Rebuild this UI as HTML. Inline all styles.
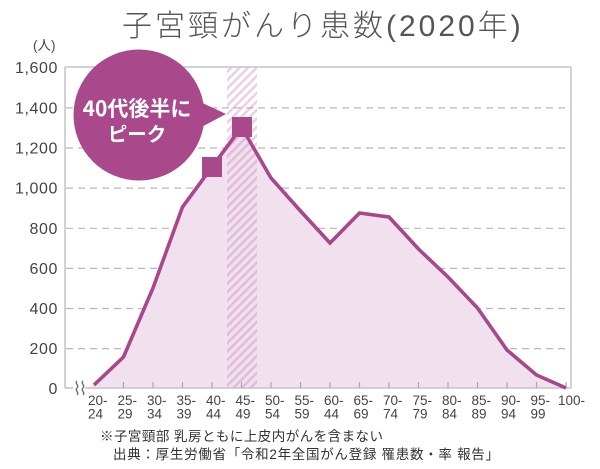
<!DOCTYPE html>
<html>
<head>
<meta charset="utf-8">
<style>
html,body{margin:0;padding:0;background:#fff;}
body{width:600px;height:469px;overflow:hidden;}
svg{display:block;}
</style>
</head>
<body>
<svg width="600" height="469" viewBox="0 0 600 469" xmlns="http://www.w3.org/2000/svg">
<defs>
<pattern id="hatch" width="6" height="6" patternUnits="userSpaceOnUse" patternTransform="rotate(45)">
<rect x="0" y="0" width="2.6" height="6" fill="#c983bb" fill-opacity="0.38"/>
</pattern>
</defs>

<!-- title -->
<text x="122" y="36" font-family="'Liberation Sans','Noto Sans CJK JP',sans-serif" font-size="30" font-weight="300" fill="#555" letter-spacing="3">子宮頸がんり患数(2020年)</text>

<!-- unit -->
<text x="33" y="50" font-family="'Liberation Sans','Noto Sans CJK JP',sans-serif" font-size="13.5" fill="#444">(人)</text>

<!-- gridlines -->
<g stroke="#b8b8b8" stroke-width="1.2" stroke-dasharray="7 5">
<line x1="66" y1="107.9" x2="571" y2="107.9"/>
<line x1="66" y1="148" x2="571" y2="148"/>
<line x1="66" y1="188.1" x2="571" y2="188.1"/>
<line x1="66" y1="228.3" x2="571" y2="228.3"/>
<line x1="66" y1="268.4" x2="571" y2="268.4"/>
<line x1="66" y1="308.5" x2="571" y2="308.5"/>
<line x1="66" y1="348.6" x2="571" y2="348.6"/>
</g>

<!-- area fill -->
<polygon fill="#f1e1ee" points="86,388 94,385 123.5,357 153,288 182.5,207 212,167 241.5,127 271,178 300.5,211 330,243 359.5,213 389,217 418.5,249 448,277 477.5,308 507,350 536.5,375 566,388"/>

<!-- hatch band -->
<rect x="227" y="67" width="30" height="321" fill="url(#hatch)"/>

<!-- plot border -->
<g stroke="#c4c4c4" stroke-width="1.5" fill="none">
<line x1="65" y1="67" x2="571" y2="67"/>
<line x1="65" y1="67" x2="65" y2="388"/>
<line x1="571" y1="67" x2="571" y2="388"/>
<line x1="65" y1="388" x2="571" y2="388"/>
</g>

<!-- ticks -->
<g stroke="#a8a8a8" stroke-width="1.2">
<line x1="123.5" y1="382" x2="123.5" y2="388"/>
<line x1="153" y1="382" x2="153" y2="388"/>
<line x1="182.5" y1="382" x2="182.5" y2="388"/>
<line x1="212" y1="382" x2="212" y2="388"/>
<line x1="241.5" y1="382" x2="241.5" y2="388"/>
<line x1="271" y1="382" x2="271" y2="388"/>
<line x1="300.5" y1="382" x2="300.5" y2="388"/>
<line x1="330" y1="382" x2="330" y2="388"/>
<line x1="359.5" y1="382" x2="359.5" y2="388"/>
<line x1="389" y1="382" x2="389" y2="388"/>
<line x1="418.5" y1="382" x2="418.5" y2="388"/>
<line x1="448" y1="382" x2="448" y2="388"/>
<line x1="477.5" y1="382" x2="477.5" y2="388"/>
<line x1="507" y1="382" x2="507" y2="388"/>
<line x1="536.5" y1="382" x2="536.5" y2="388"/>
<line x1="566" y1="382" x2="566" y2="388"/>
</g>

<!-- axis break -->
<rect x="73" y="386" width="12" height="4" fill="#fff"/>
<g stroke="#666" stroke-width="1.3" fill="none">
<path d="M77,381 c-3,2 3,5 0,7 c-3,2 3,5 0,7"/>
<path d="M83,381 c-3,2 3,5 0,7 c-3,2 3,5 0,7"/>
</g>

<!-- line -->
<polyline fill="none" stroke="#a8478b" stroke-width="3.6" stroke-linejoin="miter" points="94,385 123.5,357 153,288 182.5,207 212,167 241.5,127 271,178 300.5,211 330,243 359.5,213 389,217 418.5,249 448,277 477.5,308 507,350 536.5,375 566,388"/>

<!-- markers -->
<rect x="202" y="157" width="20" height="20" fill="#a9498c"/>
<rect x="232" y="117" width="20" height="20" fill="#a9498c"/>

<!-- bubble -->
<circle cx="139" cy="115" r="65.5" fill="#a9498c"/>
<polygon points="194,99 226,114 194,131" fill="#a9498c"/>
<text x="137" y="116" text-anchor="middle" font-family="'Noto Sans CJK JP',sans-serif" font-weight="bold" font-size="21" fill="#fff">40代後半に</text>
<text x="137" y="141" text-anchor="middle" font-family="'Noto Sans CJK JP',sans-serif" font-weight="bold" font-size="19.5" fill="#fff">ピーク</text>

<!-- y labels -->
<g font-family="'Liberation Sans',sans-serif" font-size="16" fill="#444" text-anchor="end" letter-spacing="0.6">
<text x="58" y="73">1,600</text>
<text x="58" y="113.5">1,400</text>
<text x="58" y="153.5">1,200</text>
<text x="58" y="193.5">1,000</text>
<text x="58" y="234">800</text>
<text x="58" y="274">600</text>
<text x="58" y="314">400</text>
<text x="58" y="354">200</text>
<text x="58" y="394">0</text>
</g>

<!-- x labels -->
<g font-family="'Liberation Sans',sans-serif" font-size="13.5" fill="#444">
<text x="88" y="405">20-</text><text x="88" y="418.5">24</text>
<text x="117.5" y="405">25-</text><text x="117.5" y="418.5">29</text>
<text x="147" y="405">30-</text><text x="147" y="418.5">34</text>
<text x="176.5" y="405">35-</text><text x="176.5" y="418.5">39</text>
<text x="206" y="405">40-</text><text x="206" y="418.5">44</text>
<text x="235.5" y="405">45-</text><text x="235.5" y="418.5">49</text>
<text x="265" y="405">50-</text><text x="265" y="418.5">54</text>
<text x="294.5" y="405">55-</text><text x="294.5" y="418.5">59</text>
<text x="324" y="405">60-</text><text x="324" y="418.5">44</text>
<text x="353.5" y="405">65-</text><text x="353.5" y="418.5">69</text>
<text x="383" y="405">70-</text><text x="383" y="418.5">74</text>
<text x="412.5" y="405">75-</text><text x="412.5" y="418.5">79</text>
<text x="442" y="405">80-</text><text x="442" y="418.5">84</text>
<text x="471.5" y="405">85-</text><text x="471.5" y="418.5">89</text>
<text x="501" y="405">90-</text><text x="501" y="418.5">94</text>
<text x="530.5" y="405">95-</text><text x="530.5" y="418.5">99</text>
<text x="558" y="405">100-</text>
</g>

<!-- footnotes -->
<text x="100" y="441" font-family="'Liberation Sans','Noto Sans CJK JP',sans-serif" font-size="13.5" fill="#333" textLength="283" lengthAdjust="spacing">※子宮頸部 乳房ともに上皮内がんを含まない</text>
<text x="113" y="459" font-family="'Liberation Sans','Noto Sans CJK JP',sans-serif" font-size="13.5" fill="#333" textLength="386" lengthAdjust="spacing">出典：厚生労働省「令和2年全国がん登録 罹患数・率 報告」</text>
</svg>
</body>
</html>
